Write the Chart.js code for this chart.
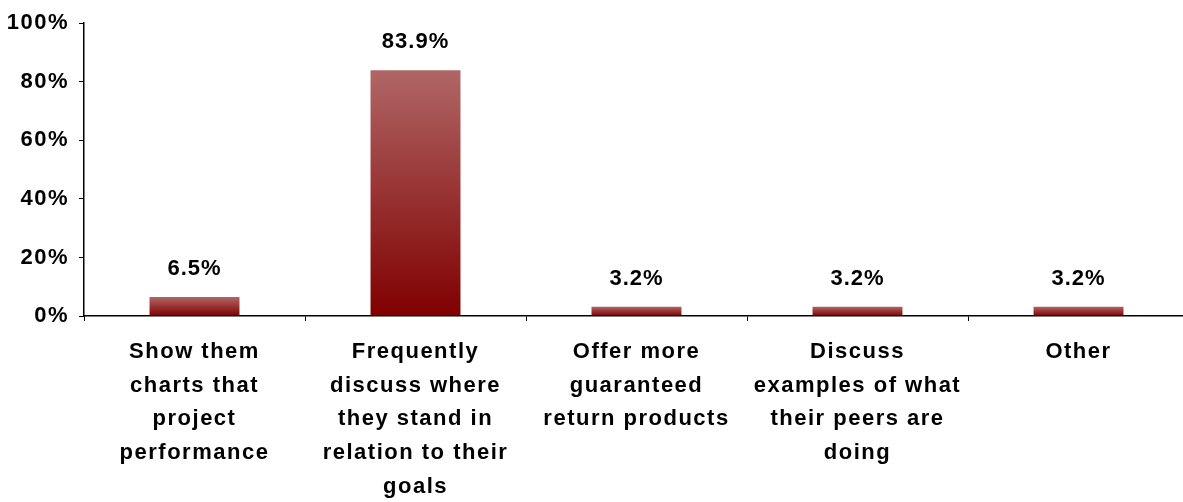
<!DOCTYPE html>
<html>
<head>
<meta charset="utf-8">
<script src="https://cdn.jsdelivr.net/npm/chart.js@4"></script>
<style>
  html, body { margin: 0; padding: 0; background: #fff; overflow: hidden; }
  #wrap { position: relative; width: 1195px; height: 502px; }
</style>
</head>
<body>
<div id="wrap"><canvas id="c"></canvas></div>
<script>
const categories = [
  ["Show them", "charts that", "project", "performance"],
  ["Frequently", "discuss where", "they stand in", "relation to their", "goals"],
  ["Offer more", "guaranteed", "return products"],
  ["Discuss", "examples of what", "their peers are", "doing"],
  ["Other"]
];
const values = [6.5, 83.9, 3.2, 3.2, 3.2];
const yTicks = [0, 20, 40, 60, 80, 100];

const FONT = "'Liberation Sans', Arial, sans-serif";

function barGradient(ctx) {
  const chart = ctx.chart;
  const area = chart.chartArea;
  if (!area || ctx.type !== 'data') return '#8b1a1a';
  const y = chart.scales.y;
  const top = y.getPixelForValue(ctx.raw);
  const bottom = y.getPixelForValue(0);
  const g = chart.ctx.createLinearGradient(0, top, 0, bottom);
  g.addColorStop(0, '#b06666');
  g.addColorStop(1, '#800000');
  return g;
}

const spacingPlugin = {
  id: 'spacing',
  beforeDraw(chart) { chart.ctx.letterSpacing = '1.5px'; }
};

const labelPlugin = {
  id: 'valueLabels',
  afterDatasetsDraw(chart) {
    const ctx = chart.ctx;
    const meta = chart.getDatasetMeta(0);
    ctx.save();
    ctx.letterSpacing = '1px';
    ctx.font = "bold 22px " + FONT;
    ctx.fillStyle = '#000';
    ctx.textAlign = 'center';
    ctx.textBaseline = 'middle';
    meta.data.forEach((bar, i) => {
      ctx.fillText(values[i].toFixed(1) + '%', bar.x, bar.y - 28);
    });
    ctx.restore();
  }
};

new Chart(document.getElementById('c'), {
  type: 'bar',
  data: {
    labels: categories,
    datasets: [{
      data: values,
      backgroundColor: barGradient,
      borderWidth: 0,
      categoryPercentage: 1,
      barPercentage: 0.407
    }]
  },
  options: {
    responsive: true,
    maintainAspectRatio: false,
    animation: false,
    layout: { padding: { top: 22, right: 6, left: 0, bottom: 0 } },
    plugins: { legend: { display: false }, tooltip: { enabled: false } },
    scales: {
      x: {
        grid: { display: true, drawOnChartArea: false, drawTicks: true, tickLength: 5, color: '#000', lineWidth: 1, offset: true },
        border: { display: true, color: '#000', width: 1.5 },
        ticks: {
          color: '#000',
          font: { family: FONT, size: 22, weight: 'bold', lineHeight: 1.53 },
          padding: 14,
          maxRotation: 0,
          autoSkip: false
        },
        afterFit(scale) { scale.height = 186; }
      },
      y: {
        min: 0, max: 100,
        afterBuildTicks(scale) { scale.ticks = yTicks.map(v => ({ value: v })); },
        grid: { display: true, drawOnChartArea: false, drawTicks: true, tickLength: 5, color: '#000', lineWidth: 1 },
        border: { display: true, color: '#000', width: 1.5 },
        ticks: {
          color: '#000',
          font: { family: FONT, size: 22, weight: 'bold' },
          padding: 10,
          callback: v => v + '%'
        },
        afterFit(scale) { scale.width = 84; }
      }
    }
  },
  plugins: [spacingPlugin, labelPlugin]
});
</script>
</body>
</html>
